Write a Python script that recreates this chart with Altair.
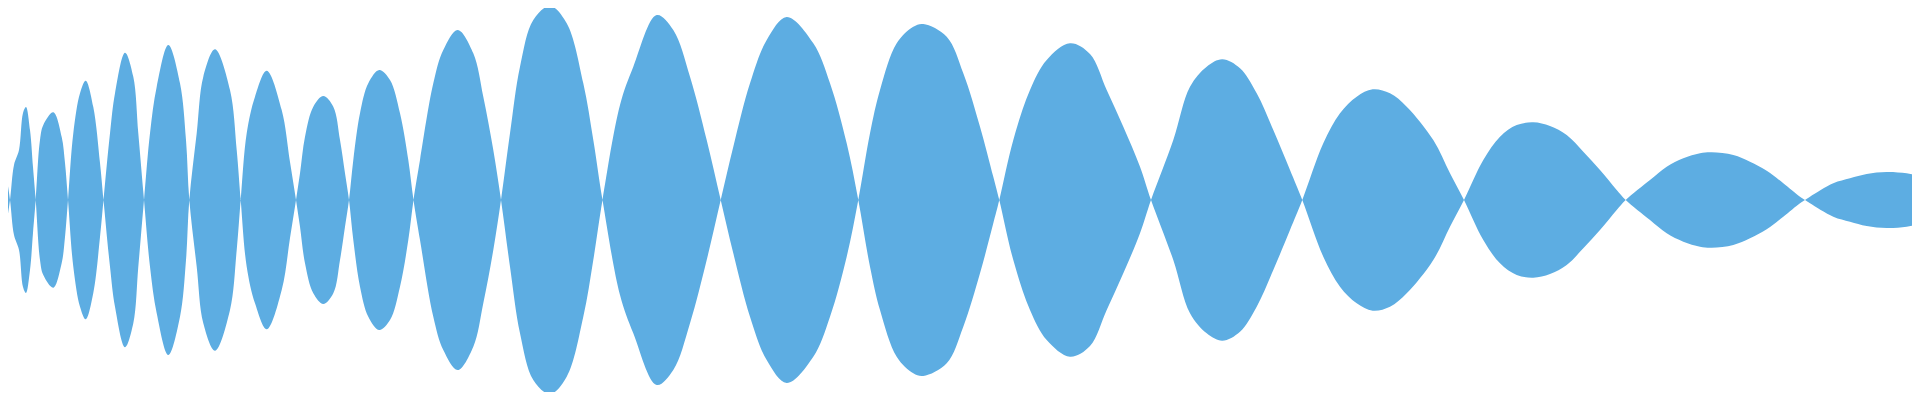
import altair as alt
import pandas as pd

# Sample positions (horizontal units) and signed amplitude
xs = [
    0, 3.3, 6.7, 10,
    14, 19, 23, 26, 30, 33, 35.7,
    40, 43.3, 53.3, 61.7, 65, 68,
    73.3, 80, 85.7, 93.3, 100, 103.5,
    110, 115, 125, 133.3, 138.3, 144,
    150, 156.7, 168.3, 180, 186, 189.3,
    196.7, 203.3, 215, 230, 236.7, 240.7,
    246.7, 255, 266.7, 281.7, 290, 296,
    300, 305, 313.3, 323.3, 333.3, 340, 345, 349,
    353.3, 360, 368.3, 379.3, 390, 400, 408.3, 413.5,
    420, 433.3, 443.3, 457.7, 473.3, 483.3, 493.3, 501,
    510, 520, 533.3, 550, 566.7, 583.3, 593.3, 602.5,
    620, 633.3, 656.7, 673.3, 690, 706.7, 720.7,
    733.3, 750, 766.7, 786.7, 813.3, 830, 846.7, 858.3,
    870, 880, 896.7, 913.3, 923.3, 946.7, 963.3, 980, 993.3, 999.3,
    1013.3, 1030, 1046.7, 1070, 1090, 1106.7, 1123.3, 1140, 1151,
    1173.3, 1190, 1206.7, 1222.3, 1240, 1256.7, 1273.3, 1290, 1302.3,
    1323.3, 1340, 1356.7, 1372.7, 1390, 1406.7, 1433.3, 1450, 1464,
    1483.3, 1500, 1516.7, 1533.3, 1550, 1566.7, 1583.3, 1600, 1616.7, 1625.7,
    1650, 1666.7, 1683.3, 1700, 1711.7, 1733.3, 1750, 1766.7, 1783.3, 1800, 1805,
    1810, 1833.3, 1850, 1866.7, 1886.7, 1906.7, 1920,
]
values = [
    35, 30, 20, 0,
    -35, -50, -87, -93, -70, -33, 0,
    60, 75, 87.7, 63, 37, 0,
    -66.7, -106.7, -119.3, -93, -37, 0,
    66.7, 106.7, 147.3, 123.3, 66.7, 0,
    -66.7, -113.3, -155, -116.7, -60, 0,
    66.7, 123.3, 150.7, 110, 50, 0,
    -66.7, -103.3, -129.3, -90, -38, 0,
    26.7, 63.3, 93.3, 104, 93.3, 60, 26.7, 0,
    -40, -86.7, -116.7, -130, -120, -86.7, -40, 0,
    40, 116.7, 150, 170, 146.7, 103.3, 50, 0,
    -66.7, -133.3, -180, -194, -176.7, -116.7, -60, 0,
    95, 133.3, 185, 170, 123.3, 60, 0,
    -53.3, -116.7, -160, -183, -156.7, -116.7, -56.7, 0,
    66.7, 110, 156.7, 173.3, 176, 163.3, 126.7, 73.3, 23.3, 0,
    -60, -110, -140, -156.7, -146, -110, -73.3, -33.3, 0,
    60, 113.3, 133.3, 140.7, 131.7, 106.7, 70, 30, 0,
    -56.7, -86.7, -103.3, -110.7, -106.7, -93.3, -60, -26.7, 0,
    40, 63.3, 75, 77.7, 74, 65, 48.3, 30, 10, 0,
    -20, -33.3, -41.7, -46.7, -47.7, -45, -38.3, -29.3, -16.7, -3.3, 0,
    3.3, 16.7, 21.7, 26, 28, 26.7, 24,
]

df = pd.DataFrame({"x": xs, "v": values})
df["neg"] = -df["v"]

chart = (
    alt.Chart(df)
    .mark_area(interpolate="catmull-rom", color="#5DADE2", clip=True)
    .encode(
        x=alt.X("x:Q", scale=alt.Scale(domain=[8, 1912], nice=False, zero=False), axis=None),
        y=alt.Y("v:Q", scale=alt.Scale(domain=[-192, 192], nice=False), axis=None),
        y2="neg:Q",
    )
    .properties(width=1904, height=384, padding=0, autosize=alt.AutoSizeParams(type="none"))
    .configure_view(stroke="transparent")
)

chart.save("out.html", embed_options={"renderer": "svg", "actions": False})
